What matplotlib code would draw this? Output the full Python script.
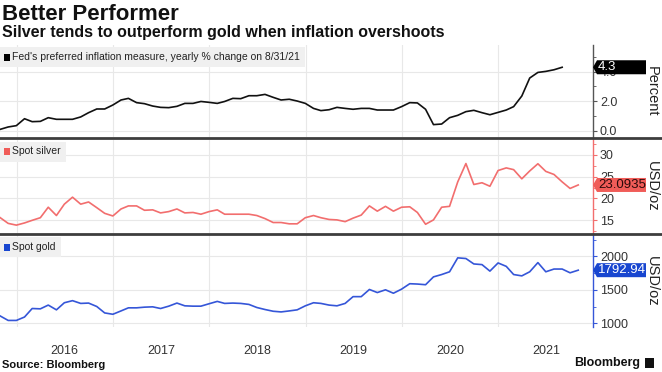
import matplotlib
matplotlib.use("Agg")
import matplotlib.pyplot as plt
import matplotlib.dates as mdates
import pandas as pd
from matplotlib import font_manager
from matplotlib.patches import Polygon, Rectangle
from matplotlib.lines import Line2D
from matplotlib.transforms import IdentityTransform

# month-end values
inflation = [0.09, 0.25, 0.34, 0.81, 0.61, 0.63, 0.88, 0.77, 0.77, 0.77, 0.93, 1.22,
             1.47, 1.47, 1.74, 2.08, 2.19, 1.90, 1.83, 1.67, 1.58, 1.56, 1.65, 1.85,
             1.85, 1.98, 1.92, 1.85, 1.98, 2.19, 2.17, 2.37, 2.37, 2.46, 2.26, 2.08,
             2.13, 2.01, 1.85, 1.51, 1.36, 1.42, 1.58, 1.51, 1.45, 1.51, 1.51, 1.40,
             1.40, 1.40, 1.63, 1.90, 1.88, 1.45, 0.41, 0.45, 0.88, 1.04, 1.29, 1.38,
             1.22, 1.08, 1.24, 1.40, 1.63, 2.35, 3.57, 3.95, 4.02, 4.13, 4.30]
silver = [15.6, 14.3, 13.9, 14.4, 15.0, 15.6, 18.0, 16.1, 18.7, 20.3, 18.7, 19.2,
          17.9, 16.6, 16.0, 17.6, 18.3, 18.3, 17.3, 17.4, 16.7, 17.0, 17.6, 16.7,
          16.8, 16.4, 17.0, 17.4, 16.4, 16.4, 16.4, 16.4, 16.1, 15.4, 14.5, 14.5,
          14.2, 14.2, 15.6, 16.1, 15.6, 15.2, 15.1, 14.7, 15.5, 16.2, 18.3, 17.1,
          18.2, 17.1, 18.0, 18.1, 16.8, 14.1, 15.1, 18.0, 18.2, 23.8, 28.0, 23.2,
          23.6, 22.8, 26.4, 27.0, 26.6, 24.5, 26.3, 27.95, 26.2, 25.5, 23.8, 22.3,
          23.0935]
gold = [1109, 1043, 1043, 1094, 1221, 1216, 1272, 1201, 1307, 1338, 1297, 1302,
        1251, 1155, 1135, 1185, 1231, 1231, 1241, 1246, 1221, 1256, 1302, 1261,
        1256, 1256, 1292, 1327, 1297, 1302, 1297, 1282, 1236, 1206, 1180, 1170,
        1185, 1201, 1261, 1307, 1297, 1272, 1261, 1297, 1398, 1398, 1505, 1459,
        1500, 1449, 1510, 1591, 1586, 1576, 1693, 1728, 1769, 1977, 1967, 1886,
        1876, 1779, 1901, 1850, 1728, 1708, 1769, 1906, 1769, 1810, 1810, 1754,
        1792.94]

series_names = ["Fed's preferred inflation measure, yearly % change on 8/31/21",
                "Spot silver", "Spot gold"]
last_labels = ["4.3", "23.0935", "1792.94"]
unit_labels = ["Percent", "USD/oz", "USD/oz"]

months = pd.date_range("2015-10-01", periods=len(silver), freq="MS") + pd.offsets.MonthEnd(0)
infl_dates = months[:len(inflation)]

names = {f.name for f in font_manager.fontManager.ttflist}
NARROW = "Liberation Sans Narrow" if "Liberation Sans Narrow" in names else "Liberation Sans"
plt.rcParams["font.family"] = ["Liberation Sans", "DejaVu Sans"]

fig = plt.figure(figsize=(6.62, 3.72), dpi=100)
H = 372.0
W = 662.0
right = 593 / W

def ax_at(top_px, bot_px):
    return fig.add_axes([0, 1 - bot_px / H, right, (bot_px - top_px) / H])

panels = [
    dict(ax=ax_at(45, 137), x=infl_dates, y=inflation, color="#111111", spine="#555555",
         tag="#000000", tagtext="white", ylim=(-0.43, 5.81), major=[0, 2, 4], minor=1,
         fmt="{:.1f}"),
    dict(ax=ax_at(139.5, 233), x=months, y=silver, color="#f26e6e", spine="#f26e6e",
         tag="#f05c58", tagtext="#2a0a0a", ylim=(12.1, 33.5), major=[15, 20, 25, 30],
         minor=2.5, fmt="{:.0f}"),
    dict(ax=ax_at(235, 327), x=months, y=gold, color="#3556d8", spine="#3556d8",
         tag="#1846d0", tagtext="white", ylim=(945, 2318), major=[1000, 1500, 2000],
         minor=250, fmt="{:.0f}"),
]

x0 = pd.Timestamp("2015-10-30")
x1 = pd.Timestamp("2021-12-26")

legend_texts = []
for i, p in enumerate(panels):
    ax = p["ax"]
    ax.plot(p["x"], p["y"], color=p["color"], lw=1.2, zorder=3)
    ax.set_xlim(x0, x1)
    ax.set_ylim(*p["ylim"])
    for s in ["left", "top", "bottom"]:
        ax.spines[s].set_visible(False)
    ax.spines["right"].set_color(p["spine"])
    ax.spines["right"].set_linewidth(1.0)
    ax.yaxis.tick_right()
    ax.set_yticks(p["major"])
    ax.set_yticklabels([p["fmt"].format(v) for v in p["major"]])
    ax.yaxis.set_minor_locator(matplotlib.ticker.MultipleLocator(p["minor"]))
    ax.tick_params(axis="y", which="both", direction="out", color=p["spine"],
                   labelsize=9, labelcolor="#333333", pad=2)
    ax.tick_params(axis="y", which="major", length=3)
    ax.tick_params(axis="y", which="minor", length=2)
    ax.xaxis.set_major_locator(mdates.YearLocator())
    ax.xaxis.set_minor_locator(mdates.MonthLocator(bymonth=7, bymonthday=1))
    ax.grid(True, which="major", color="#e8e8e8", lw=0.8, zorder=0)
    ax.tick_params(axis="x", which="both", length=0, labelbottom=False)
    ax.patch.set_alpha(0)

    # legend label (grey chip + square added below once text size is known)
    t = ax.annotate(series_names[i], xy=(0, 1), xycoords="axes fraction",
                    xytext=(12, -12), textcoords="offset pixels", va="center", ha="left",
                    fontsize=7.5, family=[NARROW, "DejaVu Sans"], color="#222222", zorder=6)
    legend_texts.append(t)

    # unit label
    pos = ax.get_position()
    fig.text(0.985, (pos.y0 + pos.y1) / 2, unit_labels[i], rotation=270,
             ha="center", va="center", fontsize=10.5, color="#222222")

# year labels on the bottom panel
axb = panels[-1]["ax"]
axb.tick_params(axis="x", which="minor", labelbottom=True, labelsize=9,
                labelcolor="#333333", pad=13)
axb.xaxis.set_minor_formatter(mdates.DateFormatter("%Y"))

renderer = fig.canvas.get_renderer()
for i, p in enumerate(panels):
    ax = p["ax"]
    bb = legend_texts[i].get_window_extent(renderer)
    yc = (bb.y0 + bb.y1) / 2
    ax_left = ax.transAxes.transform((0, 1))[0]
    ax.add_patch(Rectangle((ax_left, yc - 10), bb.x1 + 5 - ax_left, 20,
                           facecolor="#f0f0f0", edgecolor="none", clip_on=False,
                           transform=IdentityTransform(), zorder=4))
    ax.add_patch(Rectangle((ax_left + 4, yc - 3.5), 6, 7, facecolor=p["tag"],
                           edgecolor="none", clip_on=False,
                           transform=IdentityTransform(), zorder=5))

# value tags at the right edge
for i, p in enumerate(panels):
    ax = p["ax"]
    xr, yv = ax.transData.transform((mdates.date2num(x1), p["y"][-1]))
    hh = 7
    verts = [(xr, yv), (xr + 4, yv + hh), (xr + 53, yv + hh), (xr + 53, yv - hh),
             (xr + 4, yv - hh)]
    fig.add_artist(Polygon(verts, closed=True, facecolor=p["tag"], edgecolor="none",
                           transform=IdentityTransform(), zorder=10))
    fig.text(xr + 5, yv, last_labels[i], transform=IdentityTransform(), ha="left",
             va="center", fontsize=9.5, color=p["tagtext"], zorder=11)

# separators between panels
for ypx in [137.7, 233.5]:
    fig.add_artist(Line2D([0, 1], [1 - ypx / H] * 2, color="#3d3d3d", lw=2.0,
                          transform=fig.transFigure, zorder=12))

fig.text(0.003, 1 - 14 / H, "Better Performer", fontsize=16, weight="bold",
         va="center", ha="left", color="#111111")
fig.text(0.003, 1 - 33 / H, "Silver tends to outperform gold when inflation overshoots",
         fontsize=11.5, weight="bold", va="center", ha="left", color="#111111")
fig.text(0.003, 1 - 365 / H, "Source: Bloomberg", fontsize=8, weight="bold",
         va="center", ha="left", color="#111111")
fig.text(640 / W, 1 - 363 / H, "Bloomberg", fontsize=9, weight="bold",
         va="center", ha="right", color="#111111")
fig.add_artist(Rectangle((645 / W, 1 - 368 / H), 9 / W, 10 / H, facecolor="#111111",
                         edgecolor="none", transform=fig.transFigure))

fig.savefig("out.png", dpi=100, facecolor="white")
